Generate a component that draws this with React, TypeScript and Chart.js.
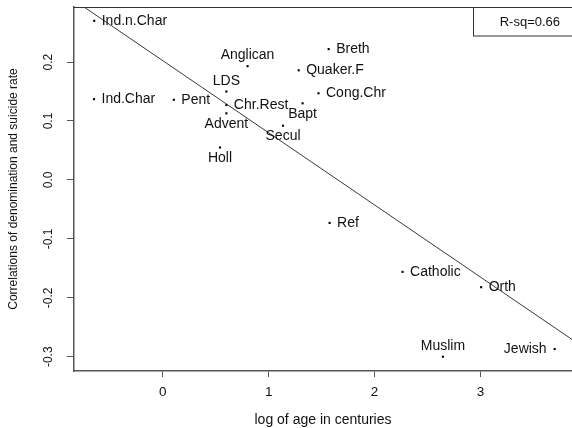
import React, { useEffect, useRef } from "react";
import { Chart, registerables } from "chart.js";

Chart.register(...registerables);

// ---- data ----
const denominations = [
  "Ind.n.Char", "Ind.Char", "Pent", "Anglican", "LDS", "Chr.Rest", "Advent", "Holl", "Secul",
  "Bapt", "Breth", "Quaker.F", "Cong.Chr", "Ref", "Catholic", "Orth", "Muslim", "Jewish",
];
const logAge = [
  -0.648, -0.65, 0.104, 0.8, 0.6, 0.6, 0.6, 0.54, 1.135,
  1.32, 1.566, 1.283, 1.47, 1.575, 2.264, 3.006, 2.645, 3.7,
];
const correlation = [
  0.27, 0.137, 0.136, 0.193, 0.15, 0.127, 0.113, 0.055, 0.092,
  0.13, 0.222, 0.186, 0.147, -0.073, -0.156, -0.182, -0.3, -0.287,
];
const labelSide = [
  "right", "right", "right", "above", "above", "right", "below", "below", "below",
  "below", "right", "right", "right", "right", "right", "right", "above", "left",
];
const xTicks = [0, 1, 2, 3];
const xTickLabels = ["0", "1", "2", "3"];
const yTicks = [-0.3, -0.2, -0.1, 0, 0.1, 0.2];
const yTickLabels = ["-0.3", "-0.2", "-0.1", "0.0", "0.1", "0.2"];
const xTitle = "log of age in centuries";
const yTitle = "Correlations of denomination and suicide rate";
const legendText = "R-sq=0.66";

const X_MIN = -0.8388;
const X_MAX = 3.864;
const Y_MIN = -0.3242;
const Y_MAX = 0.2934;

// least squares fit from the data
function fitLine(xs: number[], ys: number[]) {
  const n = xs.length;
  const mx = xs.reduce((a, b) => a + b, 0) / n;
  const my = ys.reduce((a, b) => a + b, 0) / n;
  let sxy = 0;
  let sxx = 0;
  for (let i = 0; i < n; i++) {
    sxy += (xs[i] - mx) * (ys[i] - my);
    sxx += (xs[i] - mx) * (xs[i] - mx);
  }
  const slope = sxy / sxx;
  return { slope, intercept: my - slope * mx };
}

const FONT = "'Liberation Sans', Arial, Helvetica, sans-serif";

const annotatePlugin = {
  id: "annotate",
  afterDatasetsDraw(chart: any) {
    const ctx = chart.ctx as CanvasRenderingContext2D;
    const { left, top, right, bottom } = chart.chartArea;
    ctx.save();
    // frame top/right
    ctx.strokeStyle = "#333";
    ctx.lineWidth = 1;
    ctx.beginPath();
    ctx.moveTo(left, top + 0.5);
    ctx.lineTo(right + 0.5, top + 0.5);
    ctx.lineTo(right + 0.5, bottom);
    ctx.stroke();

    // point labels
    const meta = chart.getDatasetMeta(0);
    ctx.font = `14px ${FONT}`;
    ctx.fillStyle = "#111";
    ctx.textBaseline = "alphabetic";
    meta.data.forEach((pt: any, i: number) => {
      const side = labelSide[i];
      const txt = denominations[i];
      if (side === "right") {
        ctx.textAlign = "left";
        ctx.fillText(txt, pt.x + 7.5, pt.y + 3.8);
      } else if (side === "left") {
        ctx.textAlign = "right";
        ctx.fillText(txt, pt.x - 8, pt.y + 3.8);
      } else if (side === "above") {
        ctx.textAlign = "center";
        ctx.fillText(txt, pt.x, pt.y - 7);
      } else {
        ctx.textAlign = "center";
        ctx.fillText(txt, pt.x, pt.y + 14.7);
      }
    });

    // legend box
    ctx.font = `13px ${FONT}`;
    const tw = ctx.measureText(legendText).width;
    const boxW = tw + 26.7 + 12.3;
    const boxLeft = right - boxW;
    const boxH = 28.5;
    ctx.strokeStyle = "#333";
    ctx.lineWidth = 1;
    ctx.strokeRect(Math.round(boxLeft) + 0.5, top + 0.5, boxW, boxH);
    ctx.textAlign = "left";
    ctx.textBaseline = "middle";
    ctx.fillStyle = "#111";
    ctx.fillText(legendText, Math.round(boxLeft) + 26.7, top + 15.3);
    ctx.restore();
  },
};

export default function App() {
  const canvasRef = useRef<HTMLCanvasElement | null>(null);

  useEffect(() => {
    if (!canvasRef.current) return;
    const { slope, intercept } = fitLine(logAge, correlation);
    const points = logAge.map((x, i) => ({ x, y: correlation[i] }));
    const fit = [
      { x: X_MIN, y: intercept + slope * X_MIN },
      { x: X_MAX, y: intercept + slope * X_MAX },
    ];

    const chart = new Chart(canvasRef.current, {
      type: "scatter",
      data: {
        datasets: [
          {
            data: points,
            pointStyle: "rect",
            pointRadius: 1.5,
            backgroundColor: "#000",
            borderWidth: 0,
          },
          {
            data: fit,
            showLine: true,
            pointRadius: 0,
            borderColor: "#3a3a3a",
            borderWidth: 1,
            clip: 0,
          } as any,
        ],
      },
      options: {
        animation: false,
        responsive: false,
        events: [],
        layout: { padding: { top: 7, right: 3, left: 0, bottom: 0 } },
        plugins: { legend: { display: false }, tooltip: { enabled: false } },
        scales: {
          x: {
            type: "linear",
            min: X_MIN,
            max: X_MAX,
            afterBuildTicks: (scale: any) => {
              scale.ticks = xTicks.map((v) => ({ value: v }));
            },
            afterFit: (scale: any) => {
              scale.height = 57;
              scale.paddingLeft = 0;
              scale.paddingRight = 0;
            },
            ticks: {
              autoSkip: false,
              maxRotation: 0,
              minRotation: 0,
              padding: 7.5,
              color: "#111",
              font: { family: FONT, size: 13.5, lineHeight: 1.2 },
              callback: (v: any) => {
                const i = xTicks.findIndex((t) => Math.abs(t - Number(v)) < 1e-9);
                return i >= 0 ? xTickLabels[i] : "";
              },
            },
            grid: { display: true, drawOnChartArea: false, drawTicks: true, tickLength: 6, color: "#555", lineWidth: 1 },
            border: { display: true, color: "#555", width: 1.5 },
            title: {
              display: true,
              text: xTitle,
              color: "#111",
              font: { family: FONT, size: 14, lineHeight: 1 },
              padding: { top: 0, bottom: 1 },
            },
          },
          y: {
            type: "linear",
            min: Y_MIN,
            max: Y_MAX,
            afterBuildTicks: (scale: any) => {
              scale.ticks = yTicks.map((v) => ({ value: v }));
            },
            afterFit: (scale: any) => {
              scale.width = 74;
              scale.paddingTop = 0;
              scale.paddingBottom = 0;
            },
            ticks: {
              autoSkip: false,
              minRotation: 90,
              maxRotation: 90,
              crossAlign: "center",
              padding: 8,
              color: "#111",
              font: { family: FONT, size: 12, lineHeight: 1.2 },
              callback: (v: any) => {
                const i = yTicks.findIndex((t) => Math.abs(t - Number(v)) < 1e-9);
                return i >= 0 ? yTickLabels[i] : "";
              },
            },
            grid: { display: true, drawOnChartArea: false, drawTicks: true, tickLength: 7, color: "#555", lineWidth: 1 },
            border: { display: true, color: "#555", width: 1.5 },
            title: {
              display: true,
              text: yTitle,
              color: "#111",
              font: { family: FONT, size: 12, lineHeight: 1 },
              padding: { top: 8, bottom: 0 },
            },
          },
        },
      },
      plugins: [annotatePlugin],
    } as any);

    return () => chart.destroy();
  }, []);

  return (
    <div
      style={{
        position: "absolute",
        left: 0,
        top: 0,
        width: 572,
        height: 428,
        overflow: "hidden",
        background: "#fff",
      }}
    >
      <canvas ref={canvasRef} width={576} height={428} style={{ display: "block" }} />
    </div>
  );
}
